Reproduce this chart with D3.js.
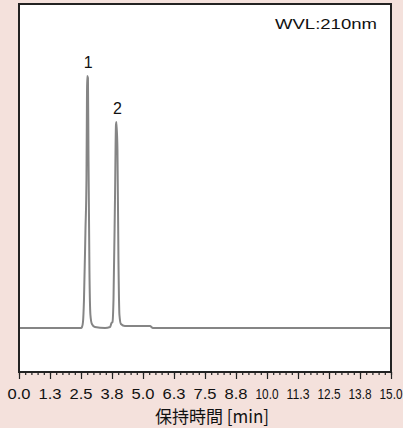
<!DOCTYPE html>
<html>
<head>
<meta charset="utf-8">
<script src="https://cdn.jsdelivr.net/npm/d3@7.9.0/dist/d3.min.js"></script>
<style>
  html, body { margin: 0; padding: 0; background: #f4e1dc; }
  svg { display: block; }
  text { font-family: "Liberation Sans", Arial, sans-serif; fill: #111; }
</style>
</head>
<body>
<svg id="chart" width="403" height="428"></svg>
<script>
// chromatogram trace (time in min, signal in arbitrary units)
const times = [0, 2.50, 2.54, 2.58, 2.62, 2.68, 2.72, 2.74, 2.75, 2.78, 2.80, 2.84, 2.88, 2.94, 3.06,
  3.47, 3.67, 3.73, 3.77, 3.81, 3.87, 3.91, 3.93, 3.97, 4.01, 4.05, 4.11, 4.27, 5.28, 5.40, 15.0];
const signal = [0, 0, 1, 6, 28, 98, 148, 228, 252, 250, 178, 58, 13, 4, 1,
  0, 1, 5, 6, 28, 128, 203, 206, 178, 68, 13, 4, 2, 2, 0, 0];

const tickValues = [0, 1.25, 2.5, 3.75, 5, 6.25, 7.5, 8.75, 10, 11.25, 12.5, 13.75, 15];
const tickLabels = ["0.0", "1.3", "2.5", "3.8", "5.0", "6.3", "7.5", "8.8", "10.0", "11.3", "12.5", "13.8", "15.0"];

const peakNames = ["1", "2"];
const peakTimes = [2.75, 3.93];
const peakHeights = [252, 206];

const svg = d3.select('#chart');
const m = { left: 19, right: 391, top: 4, bottom: 372 };

const x = d3.scaleLinear().domain([0, 15]).range([m.left, m.right]);
const y = d3.scaleLinear().domain([-44, 324]).range([m.bottom, m.top]);

// plot area
svg.append('rect')
  .attr('x', m.left).attr('y', m.top)
  .attr('width', m.right - m.left).attr('height', m.bottom - m.top)
  .attr('fill', '#fff');

// trace
const line = d3.line()
  .x((d, i) => x(times[i]))
  .y(d => y(d))
  .curve(d3.curveMonotoneX);

svg.append('path')
  .datum(signal)
  .attr('d', line)
  .attr('fill', 'none')
  .attr('stroke', '#858585')
  .attr('stroke-width', 2);

svg.append('rect')
  .attr('x', m.left).attr('y', m.top)
  .attr('width', m.right - m.left).attr('height', m.bottom - m.top)
  .attr('fill', 'none')
  .attr('stroke', '#222')
  .attr('stroke-width', 2);

// x axis: minor ticks every 0.25, labelled ticks every 1.25
const axis = svg.append('g').attr('transform', `translate(0,${m.bottom})`);
axis.call(d3.axisBottom(x).tickValues(d3.range(0, 15.001, 0.25)).tickSize(3).tickFormat(''));
axis.append('g').call(d3.axisBottom(x).tickValues(tickValues).tickSize(7).tickFormat(''));
axis.selectAll('.domain').remove();
axis.selectAll('line').attr('stroke', '#222').attr('stroke-width', 1.2);

svg.append('g').selectAll('text')
  .data(tickValues)
  .join('text')
  .attr('x', d => x(d))
  .attr('y', 399)
  .attr('text-anchor', 'middle')
  .attr('font-size', 14)
  .attr('textLength', (d, i) => tickLabels[i].length > 3 ? 23 : 23)
  .attr('lengthAdjust', 'spacingAndGlyphs')
  .text((d, i) => tickLabels[i]);

svg.append('text')
  .attr('x', 212)
  .attr('y', 423)
  .attr('text-anchor', 'middle')
  .attr('font-size', 17)
  .style('font-family', '"Noto Sans CJK JP", sans-serif')
  .text('保持時間 [min]');

// peak labels
svg.append('g').selectAll('text')
  .data(peakNames)
  .join('text')
  .attr('x', (d, i) => x(peakTimes[i]) + 1)
  .attr('y', (d, i) => y(peakHeights[i]) - 8)
  .attr('text-anchor', 'middle')
  .attr('font-size', 16)
  .text(d => d);

svg.append('text')
  .attr('x', 275)
  .attr('y', 29)
  .attr('font-size', 14)
  .attr('textLength', 102)
  .attr('lengthAdjust', 'spacingAndGlyphs')
  .text('WVL:210nm');
</script>
</body>
</html>
